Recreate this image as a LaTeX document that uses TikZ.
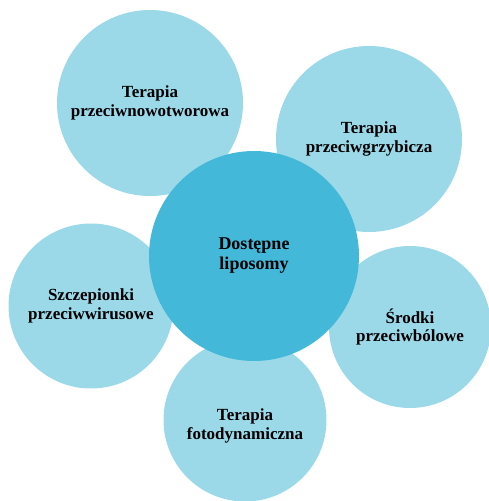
\documentclass[tikz,border=0pt]{standalone}
\usepackage{fontspec}
\setmainfont{Liberation Serif}
\usepackage{tikz}
\definecolor{petalblue}{RGB}{155,217,233}
\definecolor{coreblue}{RGB}{67,184,216}
\tikzset{
  petal/.style={
    circle,
    fill=petalblue,
    inner sep=0pt,
    align=center,
    font=\fontsize{17}{18.5}\selectfont\bfseries,
  },
  core/.style={
    circle,
    fill=coreblue,
    inner sep=0pt,
    align=center,
    minimum size=210pt,
    font=\fontsize{18}{20}\selectfont\bfseries,
  },
}

\begin{document}
\begin{tikzpicture}[x=1pt,y=-1pt]
  \useasboundingbox (0,0) rectangle (489,501);
  \node[petal, minimum size=186pt] (onco) at (150,103) {Terapia\\przeciwnowotworowa};
  \node[petal, minimum size=186pt] (fungi) at (369,139) {Terapia\\przeciwgrzybicza};
  \node[petal, minimum size=165pt] (vacc) at (91,306) {Szczepionki\\przeciwwirusowe};
  \node[petal, minimum size=162pt] (pain) at (410,327) {Środki\\przeciwbólowe};
  % text sits a little below the centre here
  \node[petal, minimum size=163pt,
    label={[align=center, yshift=-6pt, font=\fontsize{17}{18.5}\selectfont\bfseries]center:Terapia\\fotodynamiczna}]
    (photo) at (245,420) {};
  \node[core] (lipo) at (254,256) {Dostępne\\liposomy};
\end{tikzpicture}
\end{document}
